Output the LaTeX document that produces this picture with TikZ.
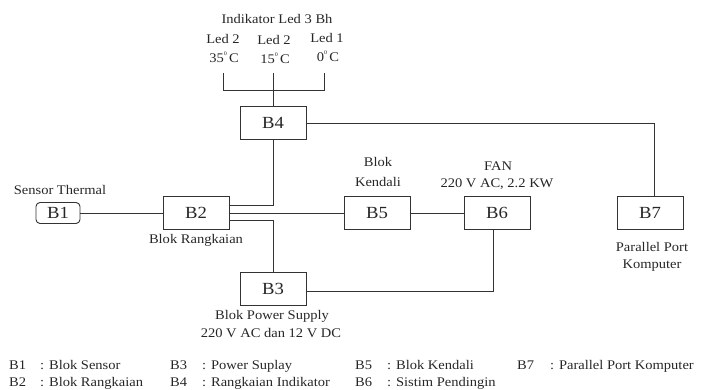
\documentclass[tikz,border=0pt]{standalone}
\usepackage{fontspec}
\setmainfont{Liberation Serif}[FakeStretch=1.1]
\begin{document}
\begin{tikzpicture}[x=1pt,y=-1pt,
  every node/.style={text=black!85, inner sep=0pt},
  blk/.style={draw=black!80, line width=0.9pt, minimum width=66pt, minimum height=33pt, font=\fontsize{17}{17}\selectfont},
  rblk/.style={draw=black!80, line width=0.9pt, rounded corners=4pt, minimum width=44pt, minimum height=21pt, font=\fontsize{17}{17}\selectfont},
  lbl/.style={anchor=base, font=\fontsize{13.2}{14}\selectfont},
  leg/.style={anchor=base west, font=\fontsize{13.2}{14}\selectfont},
  wire/.style={draw=black!80, line width=0.9pt}]
\useasboundingbox (0,0) rectangle (701,390);
% blocks
\node[rblk] (B1) at (58,213) {B1};
\node[blk] (B2) at (196,213) {B2};
\node[blk] (B3) at (273,289) {B3};
\node[blk] (B4) at (273,123) {B4};
\node[blk] (B5) at (377,213) {B5};
\node[blk] (B6) at (497,213) {B6};
\node[blk] (B7) at (650,213) {B7};
% labels
\node[lbl] (tind) at (277,24) {Indikator Led 3 Bh};
\node[lbl] (l1a) at (223,44) {Led 2};
\node[lbl] (l2a) at (274,45) {Led 2};
\node[lbl] (l3a) at (327,43) {Led 1};
\node[lbl] (l1b) at (224,63) {35\raisebox{7pt}{\fontsize{5.5}{6}\selectfont 0}\,C};
\node[lbl] (l2b) at (275,64) {15\raisebox{7pt}{\fontsize{5.5}{6}\selectfont 0}\,C};
\node[lbl] (l3b) at (328,62) {0\raisebox{7pt}{\fontsize{5.5}{6}\selectfont 0}\,C};
\node[lbl] (tsens) at (60,194) {Sensor Thermal};
\node[lbl] (trang) at (196,243) {Blok Rangkaian};
\node[lbl] (tk1) at (378,167) {Blok};
\node[lbl] (tk2) at (378,186) {Kendali};
\node[lbl] (tf1) at (498,171) {FAN};
\node[lbl] (tf2) at (497,188) {220 V AC, 2.2 KW};
\node[lbl] (tp1) at (652,251) {Parallel Port};
\node[lbl] (tp2) at (652,268) {Komputer};
\node[lbl] (tps1) at (272,319) {Blok Power Supply};
\node[lbl] (tps2) at (271,337) {220 V AC dan 12 V DC};
% legend
\node[leg] (k1) at (9,369) {B1};
\node[leg] (v1) at (40,369) {: Blok Sensor};
\node[leg] (k2) at (9,386.5) {B2};
\node[leg] (v2) at (40,386.5) {: Blok Rangkaian};
\node[leg] (k3) at (170,369) {B3};
\node[leg] (v3) at (202,369) {: Power Suplay};
\node[leg] (k4) at (170,386.5) {B4};
\node[leg] (v4) at (202,386.5) {: Rangkaian Indikator};
\node[leg] (k5) at (355,369) {B5};
\node[leg] (v5) at (387,369) {: Blok Kendali};
\node[leg] (k6) at (355,386.5) {B6};
\node[leg] (v6) at (387,386.5) {: Sistim Pendingin};
\node[leg] (k7) at (517,369) {B7};
\node[leg] (v7) at (550,369) {: Parallel Port Komputer};
% indicator wiring
\coordinate (c1) at (223,73);
\coordinate (c2) at (273,73);
\coordinate (c3) at (324,73);
\coordinate (j) at (273,90.5);
\draw[wire] (c1) |- (j) -| (c3);
\draw[wire] (c2) -- (B4.north);
% connections
\draw[wire] (B1) -- (B2);
\draw[wire] ([yshift=8pt]B2.east) -| (B4);
\draw[wire] (B2) -- (B5);
\draw[wire] ([yshift=-7pt]B2.east) -| (B3);
\draw[wire] (B5) -- (B6);
\draw[wire] ([xshift=-4pt]B6.south) |- ([yshift=-2pt]B3.east);
\draw[wire] (B4) -| ([xshift=4pt]B7.north);
\end{tikzpicture}
\end{document}
